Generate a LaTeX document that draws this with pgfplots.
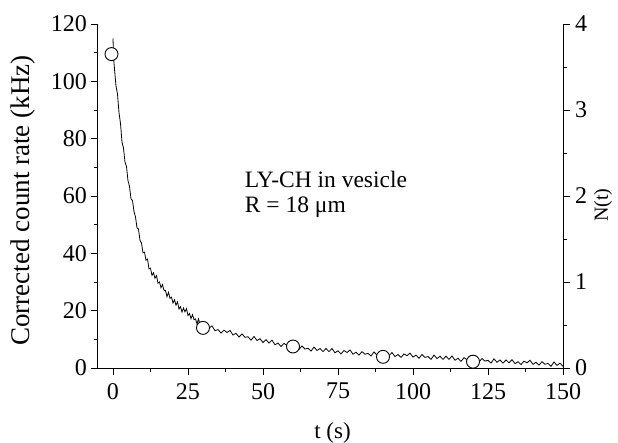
\documentclass[border=0pt]{standalone}
\usepackage{fontspec}
\setmainfont{Liberation Serif}
\usepackage{pgfplots}
\pgfplotsset{compat=1.18}
\newcommand{\tlfont}{\fontsize{24bp}{26bp}\selectfont}
\begin{document}
\begin{tikzpicture}
\pgfplotsset{
  every axis/.append style={
    scale only axis, width=465bp, height=344bp,
    xmin=-5, xmax=150,
    tick align=outside,
    major tick length=7bp, minor tick length=4bp,
    every tick/.style={black, line width=0.9bp},
    axis line style={line width=1bp},
    /pgf/number format/assume math mode=true,
  },
}
\begin{axis}[name=A,
  axis y line*=left, axis x line*=bottom,
  ymin=0, ymax=120,
  xtick={0,25,...,150}, minor x tick num=1,
  ytick={0,20,...,120}, minor y tick num=1,
  xticklabel style={font=\tlfont, inner sep=0pt, yshift=-8bp},
  yticklabel style={font=\tlfont, inner sep=0pt, xshift=-4bp},
  xlabel={t (s)}, ylabel={Corrected count rate (kHz)},
  every axis x label/.style={at={(axis description cs:0.5,0)}, xshift=2bp, yshift=-70bp, anchor=base, font=\fontsize{23bp}{26bp}\selectfont},
  every axis y label/.style={at={(axis description cs:0,0.5)}, xshift=-75bp, yshift=-4.5bp, rotate=90, anchor=center, font=\fontsize{27bp}{30bp}\selectfont},
  clip=false,
]
\addplot[black, line width=0.8bp] coordinates {
(0,115) (0.2,108) (0.5,104.3) (1,98.4) (1.5,95.6) (2,89.1) (2.5,85.3) (3,78.8) (3.5,76.7) (4,71.8)
(4.5,70.3) (5,65.3) (5.5,63.4) (6,59.0) (6.5,58.4) (7,54.6) (7.5,52.7) (8,48.9) (8.5,48.5) (9,44.5)
(9.5,43.6) (10,40.2) (10.5,40.4) (11,37.6) (11.5,38.0) (12,34.6) (12.5,34.8) (13,32.3) (13.5,33.2) (14,31.3)
(14.5,32.2) (15,29.6) (15.5,30.0) (16,28.0) (16.5,29.1) (17,27.1) (17.5,27.0) (18,24.9) (18.5,26.4) (19,24.3)
(19.5,24.7) (20,22.7) (20.5,23.8) (21,21.9) (21.5,23.1) (22,20.6) (22.5,21.4) (23,19.5) (23.5,20.9) (24,19.6)
(24.5,20.7) (25,18.3) (25.5,19.0) (26,17.2) (26.5,18.6) (27,16.9) (27.5,17.1) (28,15.4) (28.5,17.1) (29,15.3)
(29.5,16.0) (30,14.2)
(31,15.2) (32,13.9) (33,14.7) (34,13.0) (35,13.4) (36,12.2) (37,13.2) (38,12.4) (39,13.1) (40,11.5)
(41,12.1) (42,10.8) (43,11.9) (44,10.7) (45,10.9) (46,9.7) (47,11.0) (48,9.6) (49,10.2) (50,8.9)
(51,9.9) (52,8.7) (53,9.7) (54,8.1) (55,8.7) (56,7.5) (57,8.6) (58,7.8) (59,8.6) (60,7.0)
(61,7.7) (62,6.5) (63,7.7) (64,6.6) (65,6.9) (66,5.9) (67,7.3) (68,6.1) (69,6.8) (70,5.7)
(71,6.8) (72,5.7) (73,6.8) (74,5.3) (75,6.0) (76,4.9) (77,6.1) (78,5.4) (79,6.3) (80,4.8)
(81,5.5) (82,4.5) (83,5.7) (84,4.8) (85,5.1) (86,4.2) (87,5.6) (88,4.5) (89,5.2) (90,4.2)
(91,5.3) (92,4.3) (93,5.4) (94,4.0) (95,4.7) (96,3.7) (97,4.9) (98,4.3) (99,5.2) (100,3.8)
(101,4.5) (102,3.4) (103,4.7) (104,3.7) (105,4.0) (106,3.0) (107,4.5) (108,3.3) (109,4.1) (110,3.0)
(111,4.1) (112,3.0) (113,4.2) (114,2.7) (115,3.4) (116,2.3) (117,3.6) (118,2.9) (119,3.9) (120,2.4)
(121,3.1) (122,2.1) (123,3.3) (124,2.4) (125,2.7) (126,1.7) (127,3.2) (128,2.0) (129,2.8) (130,1.7)
(131,2.8) (132,1.8) (133,2.9) (134,1.5) (135,2.2) (136,1.2) (137,2.4) (138,1.8) (139,2.7) (140,1.3)
(141,2.0) (142,1.0) (143,2.2) (144,1.3) (145,1.6) (146,0.6) (147,2.1) (148,0.9) (149,1.7) (150,0.6)
};
\addplot[only marks, mark=*, mark size=6.5bp, mark options={fill=white, draw=black, line width=0.9bp}] coordinates {
(-0.5,109.5) (30,14) (60,7.5) (90,3.9) (120,2.2)
};
\node[anchor=base west, inner sep=0pt, font=\fontsize{23.5bp}{26bp}\selectfont] at (axis cs:43.9,62.8) {LY-CH in vesicle};
\node[anchor=base west, inner sep=0pt, font=\fontsize{23.5bp}{26bp}\selectfont] at (axis cs:43.9,54.4) {R = 18 μm};
\end{axis}
\begin{axis}[
  axis y line*=right, axis x line=none,
  ymin=0, ymax=4,
  ytick={0,1,2,3,4}, minor y tick num=1,
  yticklabel style={font=\tlfont, inner sep=0pt, xshift=5bp},
  ylabel={N(t)},
  every axis y label/.style={at={(axis description cs:1,0.5)}, xshift=40bp, yshift=-9bp, rotate=90, anchor=center, font=\fontsize{20bp}{24bp}\selectfont},
]
\end{axis}
\pgfresetboundingbox
\path ([xshift=-98bp,yshift=-75bp]A.south west) rectangle ([xshift=55bp,yshift=24bp]A.north east);
\end{tikzpicture}
\end{document}
